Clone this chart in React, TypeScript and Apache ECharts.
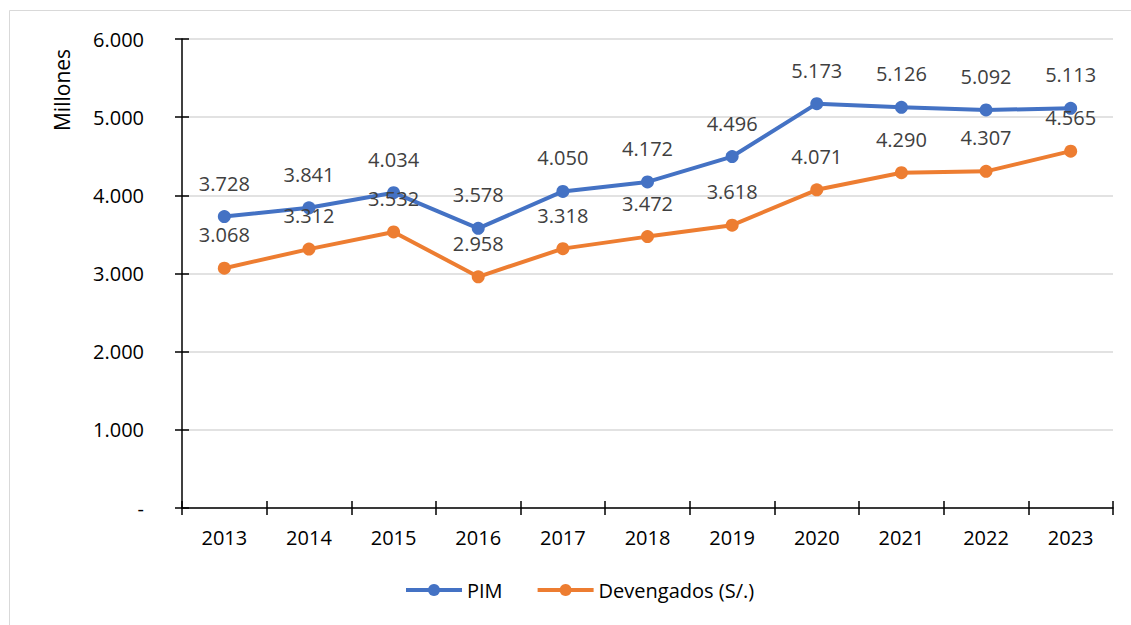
import React, { useEffect, useRef } from "react";
import * as echarts from "echarts";

const years = ["2013", "2014", "2015", "2016", "2017", "2018", "2019", "2020", "2021", "2022", "2023"];
const pim = [3728, 3841, 4034, 3578, 4050, 4172, 4496, 5173, 5126, 5092, 5113];
const devengados = [3068, 3312, 3532, 2958, 3318, 3472, 3618, 4071, 4290, 4307, 4565];
const yTicks = { min: 0, max: 6000, interval: 1000 };

const fmt = (v: number) => {
  if (v === 0) return "-";
  const s = String(Math.round(v));
  return s.replace(/\B(?=(\d{3})+(?!\d))/g, ".");
};

const FONT = "'Open Sans', 'Liberation Sans', Arial, sans-serif";

export default function App() {
  const ref = useRef<HTMLDivElement>(null);
  useEffect(() => {
    if (!ref.current) return;
    const chart = echarts.init(ref.current, null, { renderer: "svg" });
    const label = {
      show: true,
      position: "top" as const,
      distance: 17,
      color: "#404040",
      fontSize: 20,
      fontFamily: FONT,
      formatter: (p: any) => fmt(p.value),
    };
    chart.setOption({
      animation: false,
      backgroundColor: "#ffffff",
      textStyle: { fontFamily: FONT },
      graphic: [
        {
          type: "rect",
          shape: { x: 9.5, y: 10.5, width: 1300, height: 800 },
          style: { fill: "none", stroke: "#d9d9d9", lineWidth: 1 },
          silent: true,
        },
        {
          type: "text",
          x: 62,
          y: 90,
          rotation: Math.PI / 2,
          style: {
            text: "Millones",
            fontSize: 21,
            fontFamily: FONT,
            fill: "#000000",
            align: "center",
            verticalAlign: "middle",
          },
        },
      ],
      grid: { left: 182, right: 18, top: 39, bottom: 117 },
      legend: {
        bottom: 20,
        left: 399,
        itemWidth: 56,
        itemHeight: 15,
        itemGap: 33,
        lineStyle: { width: 4 },
        textStyle: { fontSize: 20, color: "#000000", fontFamily: FONT },
        data: ["PIM", "Devengados (S/.)"],
      },
      xAxis: [
        {
          type: "category",
          data: years,
          boundaryGap: true,
          axisLine: { lineStyle: { color: "#000000", width: 1.5 } },
          axisTick: { show: true, inside: false, length: 7, lineStyle: { color: "#000000", width: 1.5 } },
          axisLabel: { color: "#000000", fontSize: 20, margin: 19, fontFamily: FONT },
        },
        {
          type: "category",
          data: years,
          position: "bottom",
          boundaryGap: true,
          axisLine: { show: false },
          axisTick: { show: true, inside: true, length: 7, lineStyle: { color: "#000000", width: 1.5 } },
          axisLabel: { show: false },
          splitLine: { show: false },
        },
      ],
      yAxis: [
        {
          type: "value",
          min: yTicks.min,
          max: yTicks.max,
          interval: yTicks.interval,
          axisLine: { show: true, lineStyle: { color: "#000000", width: 1.5 } },
          axisTick: { show: true, inside: false, length: 7, lineStyle: { color: "#000000", width: 1.5 } },
          axisLabel: { color: "#000000", fontSize: 20, margin: 38, formatter: fmt, fontFamily: FONT },
          splitLine: { show: true, lineStyle: { color: "#d9d9d9", width: 1.5 } },
        },
        {
          type: "value",
          position: "left",
          min: yTicks.min,
          max: yTicks.max,
          interval: yTicks.interval,
          axisLine: { show: false },
          axisTick: { show: true, inside: true, length: 7, lineStyle: { color: "#000000", width: 1.5 } },
          axisLabel: { show: false },
          splitLine: { show: false },
        },
      ],
      series: [
        {
          name: "PIM",
          type: "line",
          data: pim,
          symbol: "circle",
          symbolSize: 13,
          lineStyle: { color: "#4472C4", width: 4 },
          itemStyle: { color: "#4472C4" },
          label,
        },
        {
          name: "Devengados (S/.)",
          type: "line",
          data: devengados,
          symbol: "circle",
          symbolSize: 13,
          lineStyle: { color: "#ED7D31", width: 4 },
          itemStyle: { color: "#ED7D31" },
          label,
        },
      ],
    });
    return () => chart.dispose();
  }, []);
  return <div ref={ref} style={{ width: 1131, height: 625, position: "absolute", left: 0, top: 0 }} />;
}
